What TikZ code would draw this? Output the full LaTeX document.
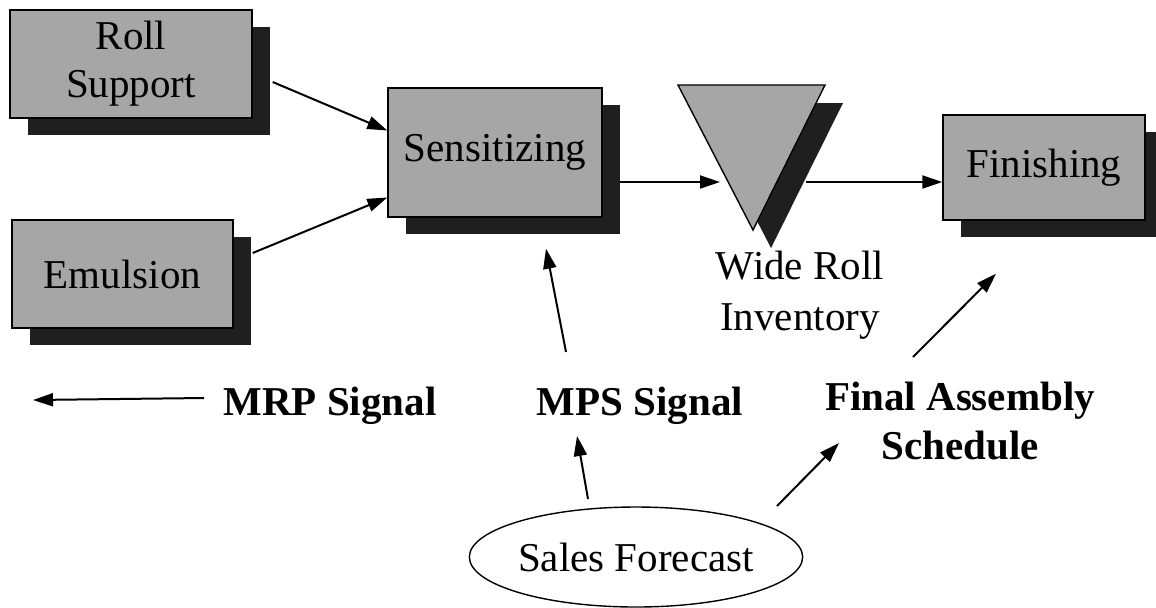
\documentclass[tikz,border=0pt]{standalone}
\usepackage{fontspec}
\setmainfont{Liberation Serif}
\usetikzlibrary{arrows.meta,shadows,shapes.geometric}

\begin{document}
\begin{tikzpicture}[x=0.5pt,y=-0.5pt,
  box/.style={draw,line width=0.7pt,fill=black!35,inner sep=0pt,align=center,
    font=\fontsize{20.5}{24}\selectfont,
    drop shadow={shadow xshift=9pt,shadow yshift=-8.5pt,fill=black!88,opacity=1}},
  sig/.style={inner sep=0pt,font=\fontsize{20.5}{24.5}\selectfont\bfseries},
  arr/.style={-{Triangle[length=10pt,width=6.5pt]},line width=1pt}]
\useasboundingbox (0,0) rectangle (1156,607);

\node[box,minimum width=121pt,minimum height=54pt] (roll) at (131,64) {Roll\\Support};
\node[box,minimum width=110.5pt,minimum height=54pt] (emul) at (122.5,274) {Emulsion};
\node[box,minimum width=107pt,minimum height=64.5pt] (sens) at (495,152.5) {Sensitizing};
\node[box,minimum width=101pt,minimum height=52.5pt] (fin) at (1044,167.5) {Finishing};

\fill[black!88] (696,103) -- (843,103) -- (771,248) -- cycle;
\filldraw[fill=black!35,line width=0.7pt] (678,85) -- (825,85) -- (753,230) -- cycle;
\coordinate (tin) at (720,182);
\coordinate (tout) at (806,182);
\node[inner sep=0pt,align=center,font=\fontsize{20.5}{25.5}\selectfont] (wide) at (800,295) {Wide Roll\\Inventory};

\node[sig,anchor=base] (mrp) at (330,415) {MRP Signal};
\node[sig,anchor=base] (mps) at (640,415) {MPS Signal};
\node[sig,align=center] (fas) at (960,421) {Final Assembly\\Schedule};
\coordinate (mrpend) at (33,400);

\node[draw,ellipse,line width=0.7pt,minimum width=152pt,minimum height=50pt,inner sep=0pt,
  font=\fontsize{20.5}{24}\selectfont] (sales) at (636,557) {Sales Forecast};

\draw[arr] ([shift={(20,18)}]roll.east) -- ([shift={(0,-22)}]sens.west);
\draw[arr] ([shift={(19,-21)}]emul.east) -- ([shift={(0,45)}]sens.west);
\draw[arr] ([shift={(17,29.5)}]sens.east) -- (tin);
\draw[arr] (tout) -- ([shift={(0,14.5)}]fin.west);
\draw[arr] ([shift={(-74,-63)}]mps.base) -- ([shift={(51,31)}]sens.south);
\draw[arr] ([shift={(-47,-64)}]fas.center) -- ([shift={(-48,53)}]fin.south);
\draw[arr] ([shift={(-126,-17)}]mrp.base) -- (mrpend);
\draw[arr] ([shift={(-48,-58)}]sales.center) -- ([shift={(-63,21)}]mps.base);
\draw[arr] ([shift={(141,-51)}]sales.center) -- ([shift={(-121,22)}]fas.center);
\end{tikzpicture}
\end{document}
